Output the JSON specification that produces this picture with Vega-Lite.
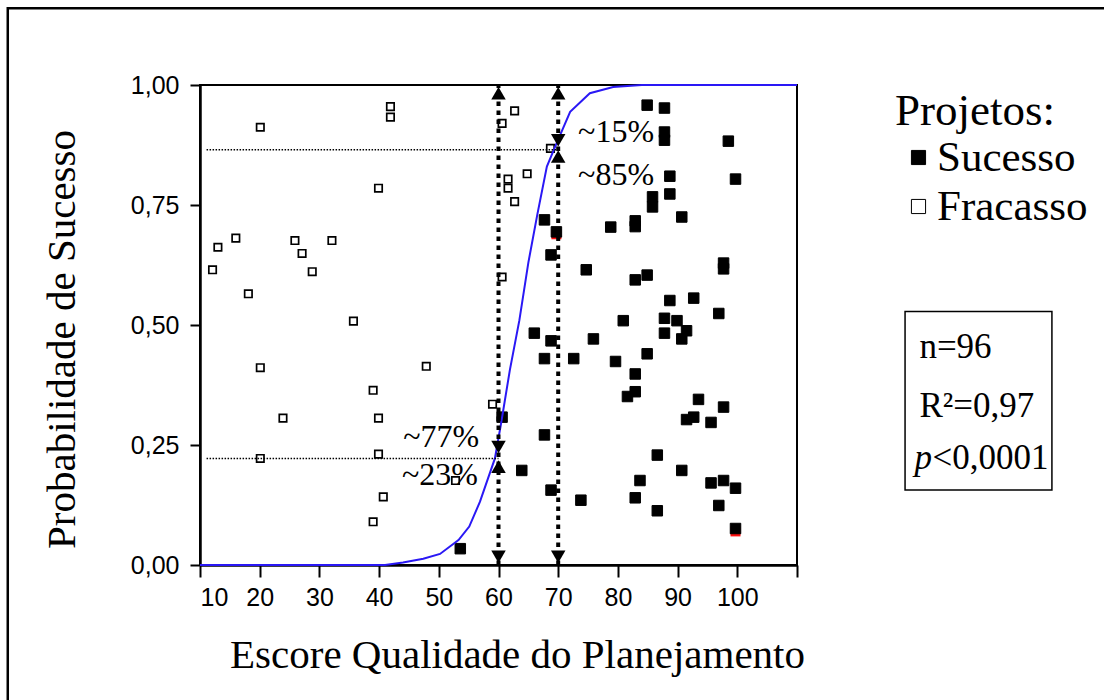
{
  "$schema": "https://vega.github.io/schema/vega-lite/v6.json",
  "width": 597,
  "height": 480,
  "autosize": {"type": "none"},
  "padding": {"left": 200, "top": 85, "right": 307, "bottom": 135},
  "background": "white",
  "config": {
    "font": "Liberation Serif",
    "view": {"stroke": "black", "strokeWidth": 2},
    "axis": {
      "grid": false,
      "domainColor": "black",
      "domainWidth": 2.5,
      "tickColor": "black",
      "tickWidth": 2,
      "labelFont": "Liberation Sans",
      "labelFontSize": 25,
      "labelColor": "black",
      "titleFont": "Liberation Serif",
      "titleFontSize": 41,
      "titleFontWeight": "normal",
      "titleColor": "black"
    },
    "legend": {
      "labelFont": "Liberation Serif",
      "titleFont": "Liberation Serif",
      "labelFontSize": 43,
      "titleFontSize": 45,
      "titleFontWeight": "normal",
      "labelColor": "black",
      "titleColor": "black"
    }
  },
  "datasets": {
    "projetos": [
      {"escore": 20.1, "prob": 0.912, "projeto": "Fracasso"},
      {"escore": 41.9, "prob": 0.955, "projeto": "Fracasso"},
      {"escore": 41.9, "prob": 0.933, "projeto": "Fracasso"},
      {"escore": 39.9, "prob": 0.785, "projeto": "Fracasso"},
      {"escore": 16.0, "prob": 0.681, "projeto": "Fracasso"},
      {"escore": 13.0, "prob": 0.662, "projeto": "Fracasso"},
      {"escore": 12.1, "prob": 0.615, "projeto": "Fracasso"},
      {"escore": 18.1, "prob": 0.565, "projeto": "Fracasso"},
      {"escore": 25.9, "prob": 0.676, "projeto": "Fracasso"},
      {"escore": 27.1, "prob": 0.649, "projeto": "Fracasso"},
      {"escore": 32.1, "prob": 0.676, "projeto": "Fracasso"},
      {"escore": 28.8, "prob": 0.611, "projeto": "Fracasso"},
      {"escore": 35.7, "prob": 0.508, "projeto": "Fracasso"},
      {"escore": 60.6, "prob": 0.92, "projeto": "Fracasso"},
      {"escore": 61.6, "prob": 0.804, "projeto": "Fracasso"},
      {"escore": 61.6, "prob": 0.785, "projeto": "Fracasso"},
      {"escore": 64.8, "prob": 0.815, "projeto": "Fracasso"},
      {"escore": 62.7, "prob": 0.757, "projeto": "Fracasso"},
      {"escore": 62.7, "prob": 0.946, "projeto": "Fracasso"},
      {"escore": 68.7, "prob": 0.868, "projeto": "Fracasso"},
      {"escore": 60.6, "prob": 0.6, "projeto": "Fracasso"},
      {"escore": 20.1, "prob": 0.411, "projeto": "Fracasso"},
      {"escore": 23.9, "prob": 0.306, "projeto": "Fracasso"},
      {"escore": 20.1, "prob": 0.222, "projeto": "Fracasso"},
      {"escore": 39.0, "prob": 0.364, "projeto": "Fracasso"},
      {"escore": 39.9, "prob": 0.306, "projeto": "Fracasso"},
      {"escore": 39.9, "prob": 0.231, "projeto": "Fracasso"},
      {"escore": 40.7, "prob": 0.142, "projeto": "Fracasso"},
      {"escore": 39.0, "prob": 0.09, "projeto": "Fracasso"},
      {"escore": 47.9, "prob": 0.414, "projeto": "Fracasso"},
      {"escore": 52.8, "prob": 0.176, "projeto": "Fracasso"},
      {"escore": 59.0, "prob": 0.335, "projeto": "Fracasso"},
      {"escore": 84.9, "prob": 0.958, "projeto": "Sucesso"},
      {"escore": 87.8, "prob": 0.952, "projeto": "Sucesso"},
      {"escore": 87.8, "prob": 0.902, "projeto": "Sucesso"},
      {"escore": 87.8, "prob": 0.885, "projeto": "Sucesso"},
      {"escore": 98.5, "prob": 0.883, "projeto": "Sucesso"},
      {"escore": 99.7, "prob": 0.804, "projeto": "Sucesso"},
      {"escore": 88.7, "prob": 0.81, "projeto": "Sucesso"},
      {"escore": 88.7, "prob": 0.773, "projeto": "Sucesso"},
      {"escore": 85.8, "prob": 0.767, "projeto": "Sucesso"},
      {"escore": 85.8, "prob": 0.746, "projeto": "Sucesso"},
      {"escore": 90.7, "prob": 0.725, "projeto": "Sucesso"},
      {"escore": 82.9, "prob": 0.717, "projeto": "Sucesso"},
      {"escore": 82.9, "prob": 0.705, "projeto": "Sucesso"},
      {"escore": 78.8, "prob": 0.704, "projeto": "Sucesso"},
      {"escore": 67.7, "prob": 0.719, "projeto": "Sucesso"},
      {"escore": 69.7, "prob": 0.694, "projeto": "Sucesso"},
      {"escore": 68.8, "prob": 0.646, "projeto": "Sucesso"},
      {"escore": 74.7, "prob": 0.615, "projeto": "Sucesso"},
      {"escore": 97.7, "prob": 0.629, "projeto": "Sucesso"},
      {"escore": 97.7, "prob": 0.617, "projeto": "Sucesso"},
      {"escore": 82.9, "prob": 0.594, "projeto": "Sucesso"},
      {"escore": 84.9, "prob": 0.604, "projeto": "Sucesso"},
      {"escore": 88.7, "prob": 0.551, "projeto": "Sucesso"},
      {"escore": 92.7, "prob": 0.556, "projeto": "Sucesso"},
      {"escore": 96.9, "prob": 0.524, "projeto": "Sucesso"},
      {"escore": 80.9, "prob": 0.509, "projeto": "Sucesso"},
      {"escore": 87.8, "prob": 0.514, "projeto": "Sucesso"},
      {"escore": 89.9, "prob": 0.509, "projeto": "Sucesso"},
      {"escore": 66.0, "prob": 0.483, "projeto": "Sucesso"},
      {"escore": 68.8, "prob": 0.467, "projeto": "Sucesso"},
      {"escore": 75.9, "prob": 0.471, "projeto": "Sucesso"},
      {"escore": 87.8, "prob": 0.483, "projeto": "Sucesso"},
      {"escore": 91.5, "prob": 0.488, "projeto": "Sucesso"},
      {"escore": 90.7, "prob": 0.471, "projeto": "Sucesso"},
      {"escore": 84.9, "prob": 0.44, "projeto": "Sucesso"},
      {"escore": 67.7, "prob": 0.43, "projeto": "Sucesso"},
      {"escore": 72.6, "prob": 0.43, "projeto": "Sucesso"},
      {"escore": 79.6, "prob": 0.424, "projeto": "Sucesso"},
      {"escore": 82.9, "prob": 0.398, "projeto": "Sucesso"},
      {"escore": 82.9, "prob": 0.361, "projeto": "Sucesso"},
      {"escore": 81.6, "prob": 0.351, "projeto": "Sucesso"},
      {"escore": 93.5, "prob": 0.345, "projeto": "Sucesso"},
      {"escore": 97.7, "prob": 0.329, "projeto": "Sucesso"},
      {"escore": 92.7, "prob": 0.308, "projeto": "Sucesso"},
      {"escore": 91.5, "prob": 0.303, "projeto": "Sucesso"},
      {"escore": 95.6, "prob": 0.297, "projeto": "Sucesso"},
      {"escore": 60.6, "prob": 0.308, "projeto": "Sucesso"},
      {"escore": 67.7, "prob": 0.271, "projeto": "Sucesso"},
      {"escore": 63.9, "prob": 0.197, "projeto": "Sucesso"},
      {"escore": 86.6, "prob": 0.229, "projeto": "Sucesso"},
      {"escore": 90.7, "prob": 0.197, "projeto": "Sucesso"},
      {"escore": 83.7, "prob": 0.176, "projeto": "Sucesso"},
      {"escore": 95.6, "prob": 0.171, "projeto": "Sucesso"},
      {"escore": 97.7, "prob": 0.176, "projeto": "Sucesso"},
      {"escore": 99.7, "prob": 0.16, "projeto": "Sucesso"},
      {"escore": 68.8, "prob": 0.156, "projeto": "Sucesso"},
      {"escore": 73.8, "prob": 0.135, "projeto": "Sucesso"},
      {"escore": 82.9, "prob": 0.14, "projeto": "Sucesso"},
      {"escore": 96.9, "prob": 0.124, "projeto": "Sucesso"},
      {"escore": 86.6, "prob": 0.113, "projeto": "Sucesso"},
      {"escore": 99.7, "prob": 0.076, "projeto": "Sucesso"},
      {"escore": 53.6, "prob": 0.034, "projeto": "Sucesso"}
    ],
    "marcados": [
      {"escore": 69.7, "prob": 0.689},
      {"escore": 99.7, "prob": 0.07}
    ],
    "curva": [
      {"escore": 10, "prob": 0},
      {"escore": 41, "prob": 0},
      {"escore": 44, "prob": 0.005},
      {"escore": 47.4, "prob": 0.013},
      {"escore": 50.2, "prob": 0.023},
      {"escore": 53.3, "prob": 0.052},
      {"escore": 55.1, "prob": 0.08},
      {"escore": 56.9, "prob": 0.132},
      {"escore": 59.4, "prob": 0.222},
      {"escore": 60.5, "prob": 0.3},
      {"escore": 61.9, "prob": 0.406},
      {"escore": 63.5, "prob": 0.51},
      {"escore": 65, "prob": 0.63},
      {"escore": 66.5, "prob": 0.73},
      {"escore": 68.1, "prob": 0.83},
      {"escore": 69.3, "prob": 0.866},
      {"escore": 70.3, "prob": 0.895},
      {"escore": 72, "prob": 0.944},
      {"escore": 75.3, "prob": 0.983},
      {"escore": 79.2, "prob": 0.996},
      {"escore": 84, "prob": 1},
      {"escore": 110, "prob": 1}
    ],
    "guias_h": [
      {"escore": 11.1, "escore2": 60, "prob": 0.222},
      {"escore": 11.1, "escore2": 70, "prob": 0.865}
    ],
    "guias_v": [
      {"escore": 60, "prob": 0, "prob2": 1},
      {"escore": 70, "prob": 0, "prob2": 1}
    ],
    "setas": [
      {"escore": 60, "prob": 0.983, "sentido": "cima"},
      {"escore": 60, "prob": 0.017, "sentido": "baixo"},
      {"escore": 60, "prob": 0.246, "sentido": "baixo"},
      {"escore": 60, "prob": 0.205, "sentido": "cima"},
      {"escore": 70, "prob": 0.983, "sentido": "cima"},
      {"escore": 70, "prob": 0.017, "sentido": "baixo"},
      {"escore": 70, "prob": 0.885, "sentido": "baixo"},
      {"escore": 70, "prob": 0.851, "sentido": "cima"}
    ],
    "percentuais": [
      {"escore": 79.7, "prob": 0.882, "texto": "~15%"},
      {"escore": 79.7, "prob": 0.792, "texto": "~85%"},
      {"escore": 50.4, "prob": 0.246, "texto": "~77%"},
      {"escore": 50.2, "prob": 0.167, "texto": "~23%"}
    ],
    "moldura": [
      {"escore": -22.2, "escore2": 175, "prob": 1.16, "prob2": -0.4}
    ],
    "quadro": [
      {"escore": 128.1, "escore2": 152.7, "prob": 0.528, "prob2": 0.156}
    ],
    "estatisticas": [
      {"escore": 130.5, "prob": 0.431, "texto": "n=96"},
      {"escore": 130.5, "prob": 0.309, "texto": "R²=0,97"}
    ],
    "valor_p": [
      {"escore": 129.7, "prob": 0.2, "simbolo": "p", "resto": "<0,0001"}
    ]
  },
  "encoding": {
    "x": {
      "field": "escore",
      "type": "quantitative",
      "scale": {"domain": [10, 110], "nice": false, "zero": false},
      "axis": {
        "title": "Escore Qualidade do Planejamento",
        "values": [10, 20, 30, 40, 50, 60, 70, 80, 90, 100, 110],
        "labelExpr": "datum.value > 100 ? '' : datum.label",
        "tickSize": 12,
        "labelPadding": 8,
        "titleX": 317,
        "titleY": 90,
        "titleAlign": "center",
        "titleBaseline": "middle"
      }
    },
    "y": {
      "field": "prob",
      "type": "quantitative",
      "scale": {"domain": [0, 1], "nice": false, "zero": false},
      "axis": {
        "title": "Probabilidade de Sucesso",
        "values": [0, 0.25, 0.5, 0.75, 1],
        "labelExpr": "replace(format(datum.value, '.2f'), '.', ',')",
        "tickSize": 10,
        "labelPadding": 11,
        "titleX": -138,
        "titleY": 254,
        "titleAlign": "center",
        "titleBaseline": "middle"
      }
    }
  },
  "layer": [
    {
      "data": {"name": "moldura"},
      "mark": {"type": "rect", "clip": false, "fillOpacity": 0, "stroke": "black", "strokeWidth": 2.5},
      "encoding": {"x2": {"field": "escore2"}, "y2": {"field": "prob2"}}
    },
    {
      "data": {"name": "quadro"},
      "mark": {"type": "rect", "clip": false, "fill": "white", "stroke": "black", "strokeWidth": 1.5},
      "encoding": {"x2": {"field": "escore2"}, "y2": {"field": "prob2"}}
    },
    {
      "data": {"name": "projetos"},
      "transform": [{"filter": "datum.projeto === 'Fracasso'"}],
      "mark": {"type": "point", "shape": "square", "filled": true, "size": 55, "stroke": "black", "strokeWidth": 1.7, "opacity": 1},
      "encoding": {
        "fill": {
          "field": "projeto",
          "type": "nominal",
          "scale": {"domain": ["Sucesso", "Fracasso"], "range": ["black", "white"]},
          "legend": {
            "orient": "none",
            "legendX": 695,
            "legendY": 4,
            "title": "Projetos:",
            "symbolType": "square",
            "symbolSize": 200,
            "symbolStrokeColor": "black",
            "symbolStrokeWidth": 1,
            "symbolOffset": 2,
            "labelOffset": -3,
            "rowPadding": 5,
            "titlePadding": 2,
            "padding": 0
          }
        }
      }
    },
    {
      "data": {"name": "marcados"},
      "mark": {"type": "point", "shape": "square", "filled": true, "size": 100, "color": "#ff1010", "opacity": 1},
      "encoding": {}
    },
    {
      "data": {"name": "projetos"},
      "transform": [{"filter": "datum.projeto === 'Sucesso'"}],
      "mark": {"type": "point", "shape": "square", "filled": true, "size": 110, "stroke": "black", "strokeWidth": 1, "opacity": 1},
      "encoding": {
        "fill": {"field": "projeto", "type": "nominal"}
      }
    },
    {
      "data": {"name": "curva"},
      "mark": {"type": "line", "color": "#2a18f5", "strokeWidth": 2, "clip": false},
      "encoding": {}
    },
    {
      "data": {"name": "guias_h"},
      "mark": {"type": "rule", "color": "black", "strokeWidth": 1.5, "strokeDash": [1.5, 1.5]},
      "encoding": {"x2": {"field": "escore2"}}
    },
    {
      "data": {"name": "guias_v"},
      "mark": {"type": "rule", "color": "black", "strokeWidth": 4, "strokeDash": [4.5, 4.5]},
      "encoding": {"y2": {"field": "prob2"}}
    },
    {
      "data": {"name": "setas"},
      "mark": {"type": "point", "filled": true, "color": "black", "size": 210, "opacity": 1},
      "encoding": {
        "shape": {
          "field": "sentido",
          "type": "nominal",
          "scale": {"domain": ["cima", "baixo"], "range": ["triangle-up", "triangle-down"]},
          "legend": null
        }
      }
    },
    {
      "data": {"name": "percentuais"},
      "mark": {"type": "text", "font": "Liberation Serif", "fontSize": 32, "align": "center", "baseline": "alphabetic", "color": "black"},
      "encoding": {"text": {"field": "texto"}}
    },
    {
      "data": {"name": "estatisticas"},
      "mark": {"type": "text", "font": "Liberation Serif", "fontSize": 35, "align": "left", "baseline": "alphabetic", "color": "black", "clip": false},
      "encoding": {"text": {"field": "texto"}}
    },
    {
      "data": {"name": "valor_p"},
      "mark": {"type": "text", "font": "Liberation Serif", "fontSize": 35, "fontStyle": "italic", "align": "left", "baseline": "alphabetic", "color": "black", "clip": false},
      "encoding": {"text": {"field": "simbolo"}}
    },
    {
      "data": {"name": "valor_p"},
      "mark": {"type": "text", "font": "Liberation Serif", "fontSize": 35, "align": "left", "baseline": "alphabetic", "color": "black", "dx": 18, "clip": false},
      "encoding": {"text": {"field": "resto"}}
    }
  ]
}
